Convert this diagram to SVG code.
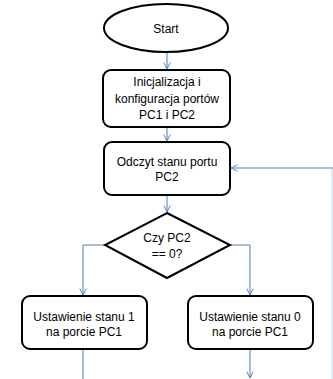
<svg xmlns="http://www.w3.org/2000/svg" width="333" height="379" viewBox="0 0 333 379">
<defs>
<style>
.n{fill:#fff;stroke:#000;stroke-width:2}
.t{font-family:"Liberation Sans",Arial,sans-serif;font-size:12px;fill:#000;text-anchor:middle}
.c{fill:none;stroke:#4a7ebb;stroke-width:1}
</style>
<marker id="a" viewBox="0 0 10 10" refX="9" refY="5" markerWidth="8" markerHeight="8" markerUnits="userSpaceOnUse" orient="auto">
<path d="M1,1 L9,5 L1,9" fill="none" stroke="#4a7ebb" stroke-width="1.2"/>
</marker>
</defs>
<rect width="333" height="379" fill="#fff"/>
<g id="connectors">
<path class="c" d="M167,53 V69" marker-end="url(#a)"/>
<path class="c" d="M167,127 V141" marker-end="url(#a)"/>
<path class="c" d="M167,195 V212" marker-end="url(#a)"/>
<path class="c" d="M105,245 H83 V295" marker-end="url(#a)"/>
<path class="c" d="M230,245 H250 V295" marker-end="url(#a)"/>
<path class="c" d="M83,349 V379"/>
<path class="c" d="M250,349 V378" marker-end="url(#a)"/>
<path class="c" d="M333,168 H231" marker-end="url(#a)"/>
<path d="M332,168 V379" fill="none" stroke="#c5d5ea" stroke-width="1"/>
</g>
<g id="start">
<ellipse class="n" cx="166" cy="28" rx="62" ry="24"/>
<text class="t" x="166" y="33">Start</text>
</g>
<g id="init">
<rect class="n" x="103" y="70" width="127" height="57" rx="8"/>
<text class="t" x="167" y="86">Inicjalizacja i</text>
<text class="t" x="167" y="103">konfiguracja portów</text>
<text class="t" x="167" y="119">PC1 i PC2</text>
</g>
<g id="read">
<rect class="n" x="104" y="142" width="126" height="53" rx="8"/>
<text class="t" x="167" y="166">Odczyt stanu portu</text>
<text class="t" x="167" y="181">PC2</text>
</g>
<g id="decision">
<polygon class="n" points="167,213 230,245 167,278 105,245"/>
<text class="t" x="167" y="242">Czy PC2</text>
<text class="t" x="167" y="258">== 0?</text>
</g>
<g id="set1">
<rect class="n" x="22" y="296" width="125" height="53" rx="8"/>
<text class="t" x="84" y="321">Ustawienie stanu 1</text>
<text class="t" x="84" y="336">na porcie PC1</text>
</g>
<g id="set0">
<rect class="n" x="188" y="296" width="125" height="53" rx="8"/>
<text class="t" x="250" y="321">Ustawienie stanu 0</text>
<text class="t" x="250" y="336">na porcie PC1</text>
</g>
</svg>
